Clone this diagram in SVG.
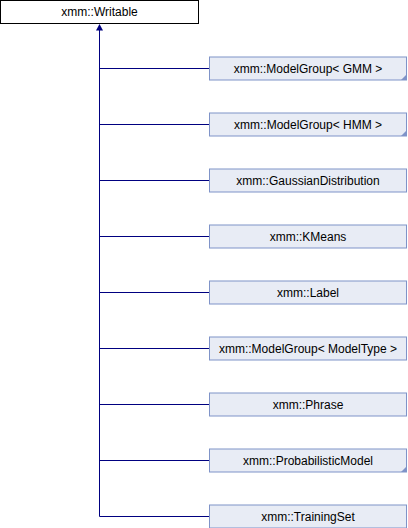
<svg xmlns="http://www.w3.org/2000/svg" width="408" height="528" viewBox="0 0 408 528">
<style>
.bg{fill:#ffffff}
.root{fill:#ffffff;stroke:#000000;stroke-width:1}
.box{fill:#e8ecf5;stroke:#7f93c8;stroke-width:1}
.ear{fill:#7f93c8;stroke:none}
.lbl{font-family:"Liberation Sans",Arial,sans-serif;font-size:12px;fill:#000000;text-anchor:middle}
.edge{fill:none;stroke:#000080;stroke-width:1}
.head{fill:#000080;stroke:none}
</style>
<rect class="bg" x="0" y="0" width="408" height="528"/>
<g id="connectors">
<path class="edge" d="M99.5 29 V516.5"/>
<path class="edge" d="M99.5 68.5 H209"/>
<path class="edge" d="M99.5 124.5 H209"/>
<path class="edge" d="M99.5 180.5 H209"/>
<path class="edge" d="M99.5 236.5 H209"/>
<path class="edge" d="M99.5 292.5 H209"/>
<path class="edge" d="M99.5 348.5 H209"/>
<path class="edge" d="M99.5 404.5 H209"/>
<path class="edge" d="M99.5 460.5 H209"/>
<path class="edge" d="M99.5 516.5 H209"/>
<polygon class="head" points="99.5,24 103,30.5 96,30.5"/>
</g>
<g id="node-writable">
<rect class="root" x="0.5" y="0.5" width="198" height="23"/>
<text class="lbl" x="99.5" y="16">xmm::Writable</text>
</g>
<g id="node-modelgroup-gmm">
<rect class="box" x="209.5" y="57" width="197" height="23"/>
<polygon class="ear" points="407,74 407,80 401,80"/>
<text class="lbl" x="308" y="72.5">xmm::ModelGroup&lt; GMM &gt;</text>
</g>
<g id="node-modelgroup-hmm">
<rect class="box" x="209.5" y="113" width="197" height="23"/>
<polygon class="ear" points="407,130 407,136 401,136"/>
<text class="lbl" x="308" y="128.5">xmm::ModelGroup&lt; HMM &gt;</text>
</g>
<g id="node-gaussiandistribution">
<rect class="box" x="209.5" y="169" width="197" height="23"/>
<text class="lbl" x="308" y="184.5">xmm::GaussianDistribution</text>
</g>
<g id="node-kmeans">
<rect class="box" x="209.5" y="225" width="197" height="23"/>
<text class="lbl" x="308" y="240.5">xmm::KMeans</text>
</g>
<g id="node-label">
<rect class="box" x="209.5" y="281" width="197" height="23"/>
<text class="lbl" x="308" y="296.5">xmm::Label</text>
</g>
<g id="node-modelgroup-modeltype">
<rect class="box" x="209.5" y="337" width="197" height="23"/>
<text class="lbl" x="308" y="352.5">xmm::ModelGroup&lt; ModelType &gt;</text>
</g>
<g id="node-phrase">
<rect class="box" x="209.5" y="393" width="197" height="23"/>
<text class="lbl" x="308" y="408.5">xmm::Phrase</text>
</g>
<g id="node-probabilisticmodel">
<rect class="box" x="209.5" y="449" width="197" height="23"/>
<polygon class="ear" points="407,466 407,472 401,472"/>
<text class="lbl" x="308" y="464.5">xmm::ProbabilisticModel</text>
</g>
<g id="node-trainingset">
<rect class="box" x="209.5" y="505" width="197" height="23"/>
<text class="lbl" x="308" y="520.5">xmm::TrainingSet</text>
</g>
</svg>
